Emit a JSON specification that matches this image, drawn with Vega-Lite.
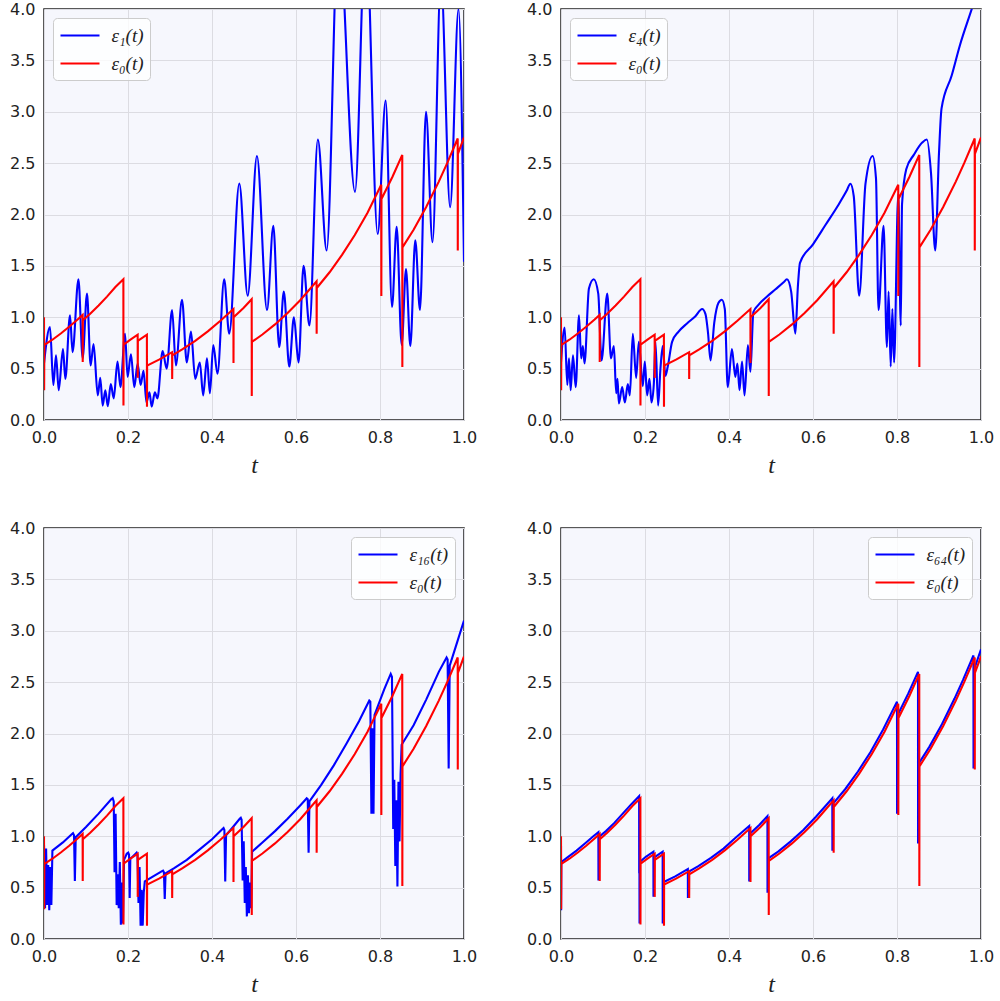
{
"$schema":"https://vega.github.io/schema/vega-lite/v6.json",
"padding":{"left":8,"top":0,"right":0,"bottom":0},
"config":{
"view":{"fill":"#f6f7fd","stroke":"#222222","strokeWidth":1.5},
"axis":{"labelFont":"DejaVu Sans","labelFontSize":16,"labelColor":"#222222","ticks":false,"domain":false,"grid":true,"gridColor":"#dcdce2","gridWidth":1,"labelPadding":9,"labelFlush":false,"labelOverlap":false},
"axisX":{"titleFont":"Liberation Serif","titleFontStyle":"italic","titleFontWeight":"normal","titleFontSize":24,"titleColor":"#222222","titlePadding":8},
"legend":{"symbolType":"M-1.95,0H1.95","symbolStrokeWidth":2.2,"symbolSize":400,"symbolOffset":9.5,"rowPadding":6,"labelFont":"Liberation Serif","labelFontStyle":"italic","labelFontSize":19,"labelColor":"#222222","labelOffset":20,"strokeColor":"#cccccc","fillColor":"rgba(255,255,255,0.8)","cornerRadius":4,"padding":6,"offset":9,"title":null},
"line":{"strokeWidth":2.1}
},
"datasets":{
"red":[{"t":0,"v":1.0},{"t":0.0003,"v":0.29},{"t":0.0008,"v":0.73},{"t":0.02,"v":0.781},{"t":0.04,"v":0.842},{"t":0.06,"v":0.907},{"t":0.08,"v":0.978},{"t":0.092,"v":1.023},{"t":0.0922,"v":0.565},{"t":0.0925,"v":0.97},{"t":0.11,"v":1.034},{"t":0.13,"v":1.114},{"t":0.15,"v":1.201},{"t":0.17,"v":1.295},{"t":0.189,"v":1.37},{"t":0.1892,"v":0.14},{"t":0.1895,"v":0.733},{"t":0.205,"v":0.78},{"t":0.223,"v":0.83},{"t":0.2232,"v":0.41},{"t":0.2235,"v":0.77},{"t":0.245,"v":0.83},{"t":0.2452,"v":0.13},{"t":0.2455,"v":0.53},{"t":0.275,"v":0.59},{"t":0.305,"v":0.66},{"t":0.3052,"v":0.40},{"t":0.3055,"v":0.63},{"t":0.33,"v":0.689},{"t":0.36,"v":0.771},{"t":0.39,"v":0.863},{"t":0.42,"v":0.966},{"t":0.451,"v":1.08},{"t":0.4512,"v":0.555},{"t":0.4515,"v":1.0},{"t":0.475,"v":1.09},{"t":0.4945,"v":1.175},{"t":0.4947,"v":0.234},{"t":0.495,"v":0.76},{"t":0.52,"v":0.832},{"t":0.55,"v":0.93},{"t":0.58,"v":1.041},{"t":0.61,"v":1.165},{"t":0.649,"v":1.35},{"t":0.6492,"v":0.84},{"t":0.6495,"v":1.285},{"t":0.68,"v":1.438},{"t":0.71,"v":1.609},{"t":0.74,"v":1.801},{"t":0.77,"v":2.015},{"t":0.803,"v":2.29},{"t":0.8032,"v":1.207},{"t":0.8035,"v":2.15},{"t":0.83,"v":2.37},{"t":0.853,"v":2.58},{"t":0.8532,"v":0.516},{"t":0.8535,"v":1.68},{"t":0.88,"v":1.852},{"t":0.91,"v":2.073},{"t":0.94,"v":2.32},{"t":0.96,"v":2.50},{"t":0.985,"v":2.74},{"t":0.9852,"v":1.65},{"t":0.9855,"v":2.59},{"t":1.0,"v":2.75}],
"b1":[{"t":0,"v":0.55},{"t":0.0143,"v":0.905},{"t":0.0222,"v":0.34},{"t":0.0286,"v":0.63},{"t":0.035,"v":0.29},{"t":0.0452,"v":0.69},{"t":0.0508,"v":0.40},{"t":0.0619,"v":1.02},{"t":0.068,"v":0.66},{"t":0.082,"v":1.37},{"t":0.092,"v":0.60},{"t":0.1024,"v":1.23},{"t":0.111,"v":0.53},{"t":0.118,"v":0.74},{"t":0.128,"v":0.24},{"t":0.134,"v":0.41},{"t":0.1397,"v":0.14},{"t":0.146,"v":0.29},{"t":0.1518,"v":0.135},{"t":0.159,"v":0.35},{"t":0.166,"v":0.21},{"t":0.175,"v":0.57},{"t":0.182,"v":0.32},{"t":0.193,"v":0.84},{"t":0.199,"v":0.42},{"t":0.207,"v":0.64},{"t":0.215,"v":0.32},{"t":0.223,"v":0.55},{"t":0.23,"v":0.34},{"t":0.237,"v":0.48},{"t":0.244,"v":0.17},{"t":0.251,"v":0.27},{"t":0.2564,"v":0.13},{"t":0.264,"v":0.27},{"t":0.27,"v":0.21},{"t":0.2825,"v":0.67},{"t":0.292,"v":0.50},{"t":0.305,"v":1.07},{"t":0.314,"v":0.53},{"t":0.3286,"v":1.17},{"t":0.34,"v":0.56},{"t":0.35,"v":0.86},{"t":0.36,"v":0.40},{"t":0.371,"v":0.56},{"t":0.379,"v":0.24},{"t":0.388,"v":0.60},{"t":0.395,"v":0.26},{"t":0.403,"v":0.73},{"t":0.413,"v":0.45},{"t":0.429,"v":1.37},{"t":0.441,"v":0.84},{"t":0.465,"v":2.30},{"t":0.485,"v":1.21},{"t":0.507,"v":2.57},{"t":0.531,"v":1.07},{"t":0.546,"v":1.89},{"t":0.56,"v":0.71},{"t":0.571,"v":1.25},{"t":0.584,"v":0.52},{"t":0.595,"v":1.0},{"t":0.606,"v":0.56},{"t":0.618,"v":1.50},{"t":0.632,"v":0.92},{"t":0.652,"v":2.73},{"t":0.673,"v":1.65},{"t":0.701,"v":4.8},{"t":0.7405,"v":2.22},{"t":0.766,"v":4.8},{"t":0.7945,"v":1.81},{"t":0.8135,"v":3.11},{"t":0.8286,"v":1.10},{"t":0.8397,"v":1.88},{"t":0.8516,"v":0.73},{"t":0.8619,"v":1.47},{"t":0.8722,"v":0.72},{"t":0.884,"v":1.75},{"t":0.8952,"v":1.07},{"t":0.9095,"v":3.0},{"t":0.925,"v":1.73},{"t":0.945,"v":4.3},{"t":0.967,"v":2.07},{"t":0.987,"v":4.0},{"t":1.0,"v":1.54}],
"b4":[{"t":0,"v":0.56},{"t":0.0087,"v":0.90},{"t":0.015,"v":0.34},{"t":0.019,"v":0.60},{"t":0.023,"v":0.29},{"t":0.0285,"v":0.63},{"t":0.035,"v":0.32},{"t":0.0428,"v":1.02},{"t":0.048,"v":0.60},{"t":0.052,"v":0.72},{"t":0.056,"v":0.55},{"t":0.0665,"v":1.28},{"t":0.078,"v":1.37},{"t":0.0887,"v":1.23},{"t":0.0966,"v":0.58},{"t":0.1101,"v":1.23},{"t":0.119,"v":0.60},{"t":0.1259,"v":0.72},{"t":0.1314,"v":0.26},{"t":0.1345,"v":0.40},{"t":0.1378,"v":0.16},{"t":0.1457,"v":0.32},{"t":0.152,"v":0.17},{"t":0.1591,"v":0.35},{"t":0.1639,"v":0.24},{"t":0.171,"v":0.84},{"t":0.1789,"v":0.41},{"t":0.1853,"v":0.76},{"t":0.1948,"v":0.33},{"t":0.1995,"v":0.57},{"t":0.2051,"v":0.24},{"t":0.2106,"v":0.40},{"t":0.2154,"v":0.17},{"t":0.221,"v":0.35},{"t":0.2249,"v":0.76},{"t":0.2312,"v":0.14},{"t":0.2368,"v":0.50},{"t":0.2423,"v":0.72},{"t":0.2486,"v":0.43},{"t":0.2542,"v":0.52},{"t":0.2645,"v":0.76},{"t":0.28,"v":0.86},{"t":0.30,"v":0.94},{"t":0.32,"v":1.01},{"t":0.336,"v":1.08},{"t":0.344,"v":1.03},{"t":0.35,"v":0.85},{"t":0.356,"v":0.58},{"t":0.365,"v":0.95},{"t":0.375,"v":1.14},{"t":0.383,"v":1.17},{"t":0.39,"v":1.08},{"t":0.397,"v":0.32},{"t":0.407,"v":0.69},{"t":0.415,"v":0.42},{"t":0.42,"v":0.55},{"t":0.425,"v":0.29},{"t":0.431,"v":0.57},{"t":0.437,"v":0.24},{"t":0.445,"v":0.73},{"t":0.451,"v":0.47},{"t":0.458,"v":1.05},{"t":0.47,"v":1.12},{"t":0.49,"v":1.20},{"t":0.51,"v":1.27},{"t":0.53,"v":1.34},{"t":0.538,"v":1.37},{"t":0.548,"v":1.25},{"t":0.558,"v":0.84},{"t":0.564,"v":1.30},{"t":0.569,"v":1.53},{"t":0.60,"v":1.71},{"t":0.63,"v":1.90},{"t":0.66,"v":2.09},{"t":0.68,"v":2.23},{"t":0.689,"v":2.30},{"t":0.697,"v":2.18},{"t":0.71,"v":1.21},{"t":0.725,"v":2.30},{"t":0.742,"v":2.57},{"t":0.75,"v":2.35},{"t":0.756,"v":1.07},{"t":0.768,"v":1.89},{"t":0.776,"v":0.71},{"t":0.78,"v":1.25},{"t":0.785,"v":0.52},{"t":0.789,"v":1.08},{"t":0.793,"v":0.56},{"t":0.803,"v":2.20},{"t":0.809,"v":0.92},{"t":0.812,"v":2.10},{"t":0.822,"v":2.44},{"t":0.84,"v":2.58},{"t":0.86,"v":2.70},{"t":0.871,"v":2.73},{"t":0.881,"v":2.40},{"t":0.891,"v":1.65},{"t":0.90,"v":2.60},{"t":0.906,"v":3.03},{"t":0.93,"v":3.35},{"t":0.95,"v":3.65},{"t":0.978,"v":4.0},{"t":1.0,"v":4.28}],
"b16":[{"t":0,"v":0.92},{"t":0.0025,"v":0.30},{"t":0.005,"v":0.88},{"t":0.0075,"v":0.33},{"t":0.01,"v":0.72},{"t":0.0125,"v":0.28},{"t":0.015,"v":0.70},{"t":0.0175,"v":0.33},{"t":0.02,"v":0.86},{"t":0.045,"v":0.94},{"t":0.066,"v":1.02},{"t":0.069,"v":1.03},{"t":0.0715,"v":1.01},{"t":0.0735,"v":0.565},{"t":0.0755,"v":0.99},{"t":0.10,"v":1.09},{"t":0.13,"v":1.22},{"t":0.16,"v":1.36},{"t":0.1635,"v":1.37},{"t":0.166,"v":1.34},{"t":0.168,"v":0.65},{"t":0.1705,"v":1.22},{"t":0.173,"v":0.33},{"t":0.1755,"v":0.63},{"t":0.178,"v":0.30},{"t":0.1805,"v":0.75},{"t":0.183,"v":0.14},{"t":0.1855,"v":0.55},{"t":0.188,"v":0.15},{"t":0.1905,"v":0.77},{"t":0.197,"v":0.83},{"t":0.2005,"v":0.84},{"t":0.2025,"v":0.82},{"t":0.204,"v":0.40},{"t":0.2055,"v":0.78},{"t":0.218,"v":0.83},{"t":0.2205,"v":0.84},{"t":0.2225,"v":0.82},{"t":0.225,"v":0.35},{"t":0.2275,"v":0.70},{"t":0.23,"v":0.13},{"t":0.2325,"v":0.48},{"t":0.235,"v":0.13},{"t":0.2375,"v":0.45},{"t":0.24,"v":0.56},{"t":0.26,"v":0.61},{"t":0.281,"v":0.66},{"t":0.2835,"v":0.665},{"t":0.2855,"v":0.65},{"t":0.2875,"v":0.39},{"t":0.2895,"v":0.64},{"t":0.31,"v":0.69},{"t":0.34,"v":0.77},{"t":0.37,"v":0.87},{"t":0.40,"v":0.97},{"t":0.425,"v":1.07},{"t":0.4275,"v":1.08},{"t":0.4295,"v":1.06},{"t":0.4315,"v":0.56},{"t":0.4335,"v":1.01},{"t":0.45,"v":1.09},{"t":0.466,"v":1.17},{"t":0.4685,"v":1.18},{"t":0.4705,"v":1.16},{"t":0.473,"v":0.57},{"t":0.4755,"v":0.95},{"t":0.478,"v":0.35},{"t":0.4805,"v":0.70},{"t":0.483,"v":0.22},{"t":0.4855,"v":0.62},{"t":0.488,"v":0.25},{"t":0.4905,"v":0.55},{"t":0.493,"v":0.30},{"t":0.4955,"v":0.85},{"t":0.52,"v":0.94},{"t":0.55,"v":1.05},{"t":0.58,"v":1.17},{"t":0.61,"v":1.30},{"t":0.6255,"v":1.37},{"t":0.628,"v":1.36},{"t":0.63,"v":0.84},{"t":0.632,"v":1.34},{"t":0.66,"v":1.50},{"t":0.69,"v":1.69},{"t":0.72,"v":1.90},{"t":0.75,"v":2.12},{"t":0.7745,"v":2.32},{"t":0.777,"v":2.31},{"t":0.7795,"v":1.22},{"t":0.782,"v":2.05},{"t":0.7845,"v":1.22},{"t":0.787,"v":2.18},{"t":0.81,"v":2.43},{"t":0.8255,"v":2.58},{"t":0.8285,"v":2.55},{"t":0.8315,"v":1.07},{"t":0.834,"v":1.55},{"t":0.8365,"v":0.71},{"t":0.839,"v":1.35},{"t":0.8415,"v":0.51},{"t":0.844,"v":1.53},{"t":0.8465,"v":0.95},{"t":0.849,"v":1.60},{"t":0.8515,"v":1.89},{"t":0.88,"v":2.08},{"t":0.91,"v":2.33},{"t":0.94,"v":2.60},{"t":0.9585,"v":2.74},{"t":0.961,"v":2.72},{"t":0.9635,"v":1.66},{"t":0.966,"v":2.66},{"t":0.98,"v":2.84},{"t":1.0,"v":3.10}],
"b64":[{"t":0,"v":0.91},{"t":0.0003,"v":0.28},{"t":0.0008,"v":0.75},{"t":0.017,"v":0.80},{"t":0.037,"v":0.86},{"t":0.057,"v":0.93},{"t":0.077,"v":1.0},{"t":0.089,"v":1.04},{"t":0.0892,"v":0.57},{"t":0.0895,"v":0.99},{"t":0.107,"v":1.05},{"t":0.127,"v":1.13},{"t":0.147,"v":1.22},{"t":0.167,"v":1.31},{"t":0.186,"v":1.39},{"t":0.1862,"v":0.64},{"t":0.1866,"v":1.1},{"t":0.187,"v":0.15},{"t":0.1875,"v":0.75},{"t":0.202,"v":0.80},{"t":0.22,"v":0.85},{"t":0.2202,"v":0.41},{"t":0.2205,"v":0.79},{"t":0.242,"v":0.85},{"t":0.2422,"v":0.15},{"t":0.2425,"v":0.55},{"t":0.272,"v":0.61},{"t":0.302,"v":0.68},{"t":0.3022,"v":0.40},{"t":0.3025,"v":0.65},{"t":0.327,"v":0.71},{"t":0.357,"v":0.79},{"t":0.387,"v":0.88},{"t":0.417,"v":0.99},{"t":0.448,"v":1.10},{"t":0.4482,"v":0.56},{"t":0.4485,"v":1.02},{"t":0.472,"v":1.11},{"t":0.4915,"v":1.195},{"t":0.4917,"v":0.45},{"t":0.492,"v":0.78},{"t":0.517,"v":0.85},{"t":0.547,"v":0.95},{"t":0.577,"v":1.06},{"t":0.607,"v":1.19},{"t":0.646,"v":1.37},{"t":0.6462,"v":0.86},{"t":0.6465,"v":1.31},{"t":0.677,"v":1.46},{"t":0.707,"v":1.63},{"t":0.737,"v":1.82},{"t":0.767,"v":2.04},{"t":0.8,"v":2.31},{"t":0.8002,"v":1.22},{"t":0.8005,"v":2.17},{"t":0.827,"v":2.39},{"t":0.85,"v":2.6},{"t":0.8502,"v":0.93},{"t":0.8505,"v":1.7},{"t":0.877,"v":1.87},{"t":0.907,"v":2.09},{"t":0.937,"v":2.34},{"t":0.957,"v":2.52},{"t":0.982,"v":2.76},{"t":0.9822,"v":1.66},{"t":0.9825,"v":2.61},{"t":1.0,"v":2.82}]
},
"columns":2,
"spacing":{"row":108,"column":97},
"bounds":"flush",
"resolve":{"scale":{"color":"independent","x":"independent","y":"independent"},"legend":{"color":"independent"}},
"concat":[
{"width":420,"height":411,"layer":[
{"data":{"name":"b1"},"mark":{"type":"line","clip":true,"interpolate":"monotone"},"encoding":{"x":{"field":"t","type":"quantitative","scale":{"domain":[0,1],"nice":false},"axis":{"values":[0,0.2,0.4,0.6,0.8,1],"format":".1f","title":"t"}},"y":{"field":"v","type":"quantitative","scale":{"domain":[0,4],"nice":false},"axis":{"values":[0,0.5,1,1.5,2,2.5,3,3.5,4],"format":".1f","title":null}},"color":{"datum":"ε₁(t)","type":"nominal","scale":{"domain":["ε₁(t)","ε₀(t)"],"range":["#0000ff","#ff0000"]},"legend":{"orient":"top-left","title":null}}}},
{"data":{"name":"red"},"mark":{"type":"line","clip":true},"encoding":{"x":{"field":"t","type":"quantitative"},"y":{"field":"v","type":"quantitative"},"color":{"datum":"ε₀(t)","type":"nominal"}}}
]},
{"width":420,"height":411,"layer":[
{"data":{"name":"b4"},"mark":{"type":"line","clip":true,"interpolate":"monotone"},"encoding":{"x":{"field":"t","type":"quantitative","scale":{"domain":[0,1],"nice":false},"axis":{"values":[0,0.2,0.4,0.6,0.8,1],"format":".1f","title":"t"}},"y":{"field":"v","type":"quantitative","scale":{"domain":[0,4],"nice":false},"axis":{"values":[0,0.5,1,1.5,2,2.5,3,3.5,4],"format":".1f","title":null}},"color":{"datum":"ε₄(t)","type":"nominal","scale":{"domain":["ε₄(t)","ε₀(t)"],"range":["#0000ff","#ff0000"]},"legend":{"orient":"top-left","title":null}}}},
{"data":{"name":"red"},"mark":{"type":"line","clip":true},"encoding":{"x":{"field":"t","type":"quantitative"},"y":{"field":"v","type":"quantitative"},"color":{"datum":"ε₀(t)","type":"nominal"}}}
]},
{"width":420,"height":411,"layer":[
{"data":{"name":"b16"},"mark":{"type":"line","clip":true},"encoding":{"x":{"field":"t","type":"quantitative","scale":{"domain":[0,1],"nice":false},"axis":{"values":[0,0.2,0.4,0.6,0.8,1],"format":".1f","title":"t"}},"y":{"field":"v","type":"quantitative","scale":{"domain":[0,4],"nice":false},"axis":{"values":[0,0.5,1,1.5,2,2.5,3,3.5,4],"format":".1f","title":null}},"color":{"datum":"ε₁₆(t)","type":"nominal","scale":{"domain":["ε₁₆(t)","ε₀(t)"],"range":["#0000ff","#ff0000"]},"legend":{"orient":"top-right","title":null}}}},
{"data":{"name":"red"},"mark":{"type":"line","clip":true},"encoding":{"x":{"field":"t","type":"quantitative"},"y":{"field":"v","type":"quantitative"},"color":{"datum":"ε₀(t)","type":"nominal"}}}
]},
{"width":420,"height":411,"layer":[
{"data":{"name":"b64"},"mark":{"type":"line","clip":true},"encoding":{"x":{"field":"t","type":"quantitative","scale":{"domain":[0,1],"nice":false},"axis":{"values":[0,0.2,0.4,0.6,0.8,1],"format":".1f","title":"t"}},"y":{"field":"v","type":"quantitative","scale":{"domain":[0,4],"nice":false},"axis":{"values":[0,0.5,1,1.5,2,2.5,3,3.5,4],"format":".1f","title":null}},"color":{"datum":"ε₆₄(t)","type":"nominal","scale":{"domain":["ε₆₄(t)","ε₀(t)"],"range":["#0000ff","#ff0000"]},"legend":{"orient":"top-right","title":null}}}},
{"data":{"name":"red"},"mark":{"type":"line","clip":true},"encoding":{"x":{"field":"t","type":"quantitative"},"y":{"field":"v","type":"quantitative"},"color":{"datum":"ε₀(t)","type":"nominal"}}}
]}
]
}
